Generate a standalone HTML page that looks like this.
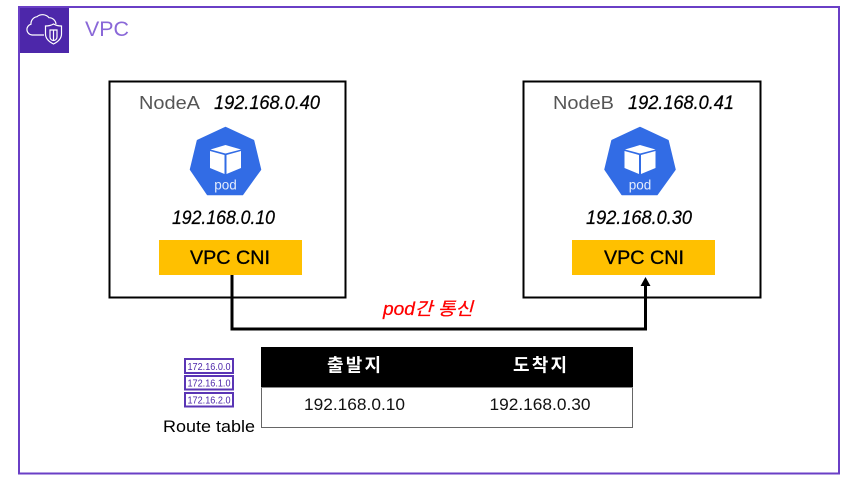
<!DOCTYPE html>
<html><head><meta charset="utf-8"><style>
html,body{margin:0;padding:0;background:#fff;width:859px;height:489px;overflow:hidden}
svg{display:block}
text{font-family:"Liberation Sans","Noto Sans CJK KR",sans-serif}
</style></head><body>
<svg width="859" height="489" viewBox="0 0 859 489" xmlns="http://www.w3.org/2000/svg">
<rect width="859" height="489" fill="#fff"/>
<rect x="19" y="7" width="820" height="466.500" fill="none" stroke="#6a3fc6" stroke-width="2"/>
<rect x="20" y="8" width="49" height="45" fill="#4d27aa"/>
<g fill="none" stroke="#fff" stroke-width="1.200">
<path d="M44 35H32a5.500 5.500 0 0 1-1-10.800a7 7 0 0 1 6-7.500a8.500 8.500 0 0 1 12 1a7 7 0 0 1 7 6.500"/>
<path d="M53.500 24c2.500 1.500 5.500 2 8 2v8c0 4.500-3 7.500-8 10c-5-2.500-8-5.500-8-10v-8c2.500 0 5.500-.5 8-2z"/>
<path d="M50 30v7c0 2 1.500 3.500 3.500 3.500s3.500-1.500 3.500-3.500v-7z"/>
<path d="M53.500 30v10"/>
</g>
<text x="85" y="36" font-size="21" fill="#8a68d8" textLength="44" lengthAdjust="spacingAndGlyphs">VPC</text>

<rect x="109.500" y="81.500" width="236" height="216" fill="none" stroke="#000" stroke-width="2"/>
<rect x="523.500" y="81.500" width="237" height="216" fill="none" stroke="#000" stroke-width="2"/>

<text x="139" y="109" font-size="18" fill="#555" textLength="61" lengthAdjust="spacingAndGlyphs">NodeA</text>
<text x="214" y="109" font-size="19" font-style="italic" fill="#000" stroke="#000" stroke-width=".25" textLength="106" lengthAdjust="spacingAndGlyphs">192.168.0.40</text>
<text x="553" y="109" font-size="18" fill="#555" textLength="61" lengthAdjust="spacingAndGlyphs">NodeB</text>
<text x="628" y="109" font-size="19" font-style="italic" fill="#000" stroke="#000" stroke-width=".25" textLength="106" lengthAdjust="spacingAndGlyphs">192.168.0.41</text>

<g>
<path d="M225.500 127.500L253.500 140.500L260.500 169.500L242.500 194.500H207.500L190.500 169.500L197.500 140.500Z" fill="#326ce5" stroke="#326ce5" stroke-width="1.500" stroke-linejoin="round"/>
<path d="M225.500 145L210.500 149.500L225.500 153.500L241 149.500Z" fill="#fff"/>
<path d="M210 151L224.500 155V174L210 168Z" fill="#fff"/>
<path d="M241 151L226.500 155V174L241 168Z" fill="#fff"/>
<text x="225.500" y="189.500" font-size="13.500" fill="#e4ecfc" text-anchor="middle">pod</text>
</g>
<g transform="translate(414.500,0)">
<path d="M225.500 127.500L253.500 140.500L260.500 169.500L242.500 194.500H207.500L190.500 169.500L197.500 140.500Z" fill="#326ce5" stroke="#326ce5" stroke-width="1.500" stroke-linejoin="round"/>
<path d="M225.500 145L210.500 149.500L225.500 153.500L241 149.500Z" fill="#fff"/>
<path d="M210 151L224.500 155V174L210 168Z" fill="#fff"/>
<path d="M241 151L226.500 155V174L241 168Z" fill="#fff"/>
<text x="225.500" y="189.500" font-size="13.500" fill="#e4ecfc" text-anchor="middle">pod</text>
</g>

<text x="172" y="224" font-size="19" font-style="italic" fill="#000" stroke="#000" stroke-width=".25" textLength="103" lengthAdjust="spacingAndGlyphs">192.168.0.10</text>
<text x="586" y="224" font-size="19" font-style="italic" fill="#000" stroke="#000" stroke-width=".25" textLength="106" lengthAdjust="spacingAndGlyphs">192.168.0.30</text>

<rect x="159" y="240" width="143" height="35" fill="#ffc000"/>
<rect x="572" y="240" width="143" height="35" fill="#ffc000"/>
<text x="190" y="264" font-size="19" fill="#000" stroke="#000" stroke-width=".3" textLength="80" lengthAdjust="spacingAndGlyphs">VPC CNI</text>
<text x="604" y="264" font-size="19" fill="#000" stroke="#000" stroke-width=".3" textLength="80" lengthAdjust="spacingAndGlyphs">VPC CNI</text>

<path d="M232 275V329H645.500V284" fill="none" stroke="#000" stroke-width="3"/>
<path d="M645.500 277L650.500 286H640.500Z" fill="#000"/>

<text x="383" y="315" font-size="18" font-style="italic" fill="#ff0000" stroke="#ff0000" stroke-width=".25" textLength="90" lengthAdjust="spacingAndGlyphs">pod간 통신</text>

<g fill="#fff" stroke="#5a35b5" stroke-width="2">
<rect x="185" y="359" width="48" height="14"/>
<rect x="185" y="376" width="48" height="13.500"/>
<rect x="185" y="393" width="48" height="13.500"/>
</g>
<g font-size="10" fill="#4d27aa" text-anchor="middle">
<text x="209" y="370" textLength="43" lengthAdjust="spacingAndGlyphs">172.16.0.0</text>
<text x="209" y="386.500" textLength="43" lengthAdjust="spacingAndGlyphs">172.16.1.0</text>
<text x="209" y="403.500" textLength="43" lengthAdjust="spacingAndGlyphs">172.16.2.0</text>
</g>
<text x="163" y="432" font-size="17" fill="#000" textLength="92" lengthAdjust="spacingAndGlyphs">Route table</text>

<rect x="261.500" y="347.500" width="371" height="80" fill="#fff" stroke="#666" stroke-width="1"/>
<rect x="261" y="347" width="372" height="40" fill="#000"/>
<rect x="261" y="387" width="372" height="1" fill="#888"/>
<text x="354" y="371.500" font-size="18" font-weight="bold" fill="#fff" text-anchor="middle" textLength="54" lengthAdjust="spacing">출발지</text>
<text x="540" y="371.500" font-size="18" font-weight="bold" fill="#fff" text-anchor="middle" textLength="54" lengthAdjust="spacing">도착지</text>
<text x="354.500" y="410" font-size="17" fill="#111" text-anchor="middle" textLength="101" lengthAdjust="spacingAndGlyphs">192.168.0.10</text>
<text x="540" y="410" font-size="17" fill="#111" text-anchor="middle" textLength="101" lengthAdjust="spacingAndGlyphs">192.168.0.30</text>
</svg>
</body></html>
